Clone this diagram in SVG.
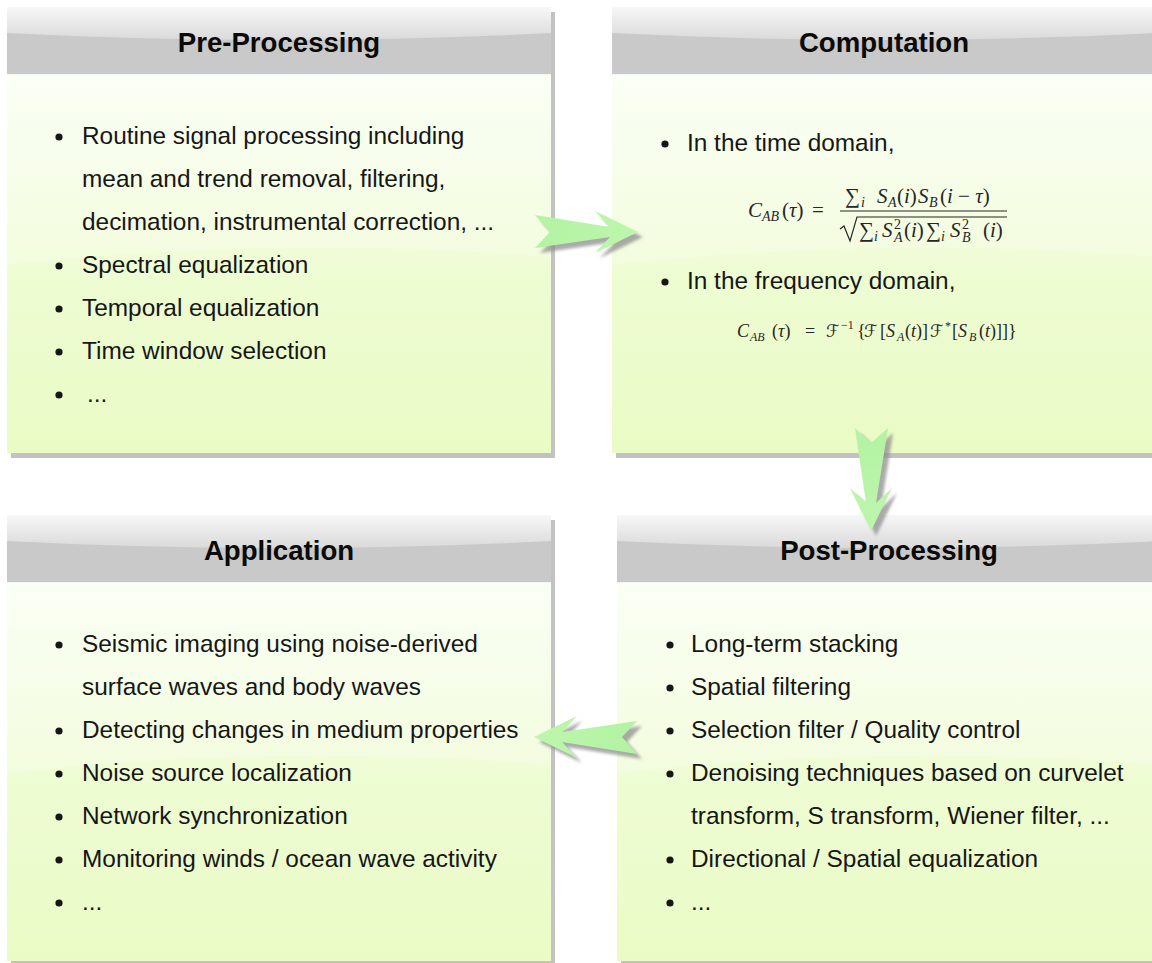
<svg xmlns="http://www.w3.org/2000/svg" width="1152" height="963" viewBox="0 0 1152 963">
<defs>
<linearGradient id="gloss" x1="0" y1="0" x2="0" y2="1">
<stop offset="0" stop-color="#f7f7f7"/>
<stop offset="1" stop-color="#dadada"/>
</linearGradient>
<linearGradient id="body" x1="0" y1="0" x2="0" y2="1">
<stop offset="0" stop-color="#fafff3"/>
<stop offset="0.55" stop-color="#eefcd2"/>
<stop offset="1" stop-color="#eafbc5"/>
</linearGradient>
<linearGradient id="arrowfill" x1="0" y1="0" x2="1" y2="0">
<stop offset="0" stop-color="#b3f3a2"/>
<stop offset="1" stop-color="#bdf6ac"/>
</linearGradient>
<filter id="blur" x="-20%" y="-20%" width="140%" height="140%">
<feGaussianBlur stdDeviation="1.5"/>
</filter>
<path id="arrow" d="M0,-17 L75,-5 L60,-21 L103,0 L60,21 L75,5 L0,16 L15,0 Z"/>
<g id="panelbg">
<rect x="4" y="5" width="544" height="446" fill="#c2c2c2"/>
<rect x="0" y="0" width="544" height="67" fill="#c9c9c9"/>
<path d="M0,0 H544 V26 Q272,40 0,26 Z" fill="url(#gloss)"/>
<rect x="0" y="67" width="544" height="1" fill="#f4f4f4"/>
<rect x="0" y="68" width="544" height="378" fill="url(#body)"/>
<path d="M0,68 H544 V250 Q272,228 0,258 Z" fill="#ffffff" opacity="0.22"/>
</g>
</defs>
<style>
.t{font-family:"Liberation Sans",Arial,sans-serif;font-size:24.4px;fill:#161616}
.h{font-family:"Liberation Sans",Arial,sans-serif;font-size:27.6px;font-weight:bold;fill:#0a0a0a;text-anchor:middle}
.b{fill:#161616}
.m{font-family:"Liberation Serif","Times New Roman",serif;fill:#262626}
.i{font-style:italic}
.sf{font-family:"DejaVu Serif","DejaVu Sans",serif;fill:#262626}
.rule{stroke:#262626;stroke-width:1.2;fill:none}
</style>

<g id="pre-processing">
<use href="#panelbg" transform="translate(7,7)"/>
<text class="h" x="279" y="52">Pre-Processing</text>
<circle class="b" cx="59" cy="137" r="3.6"/>
<text class="t" x="82" y="144">Routine signal processing including</text>
<text class="t" x="82" y="187">mean and trend removal, filtering,</text>
<text class="t" x="82" y="230">decimation, instrumental correction, ...</text>
<circle class="b" cx="59" cy="266" r="3.6"/>
<text class="t" x="82" y="273">Spectral equalization</text>
<circle class="b" cx="59" cy="309" r="3.6"/>
<text class="t" x="82" y="316">Temporal equalization</text>
<circle class="b" cx="59" cy="352" r="3.6"/>
<text class="t" x="82" y="359">Time window selection</text>
<circle class="b" cx="59" cy="395" r="3.6"/>
<text class="t" x="87" y="402">...</text>
</g>

<g id="computation">
<use href="#panelbg" transform="translate(612,7)"/>
<text class="h" x="884" y="52">Computation</text>
<circle class="b" cx="665" cy="144" r="3.6"/>
<text class="t" x="687" y="151">In the time domain,</text>
<text class="m i" x="748" y="217" font-size="21">C</text>
<text class="m i" x="762" y="221" font-size="14">AB</text>
<text class="m" x="782" y="217" font-size="21">(<tspan class="i">τ</tspan>)</text>
<text class="m" x="812" y="217" font-size="21">=</text>
<text class="m" y="203" font-size="21"><tspan x="845">∑</tspan><tspan x="861" dy="4" font-size="14" class="i">i</tspan><tspan x="877" dy="-4" class="i">S</tspan><tspan x="888" dy="4" font-size="14" class="i">A</tspan><tspan x="897" dy="-4">(</tspan><tspan class="i">i</tspan><tspan>)</tspan><tspan x="918" class="i">S</tspan><tspan x="929" dy="4" font-size="14" class="i">B</tspan><tspan x="940" dy="-4">(</tspan><tspan class="i">i</tspan><tspan> − </tspan><tspan class="i">τ</tspan><tspan>)</tspan></text>
<line class="rule" x1="840" y1="211" x2="1007" y2="211"/>
<path class="rule" d="M840,229 L844,226 L850,241 L857,217 L1007,217"/>
<text class="m" y="237" font-size="21"><tspan x="859">∑</tspan><tspan x="874" dy="4" font-size="14" class="i">i</tspan><tspan x="882" dy="-4" class="i">S</tspan><tspan x="894" dy="-8" font-size="14">2</tspan><tspan x="894" dy="13" font-size="14" class="i">A</tspan><tspan x="904" dy="-5">(</tspan><tspan class="i">i</tspan><tspan>)</tspan><tspan x="926">∑</tspan><tspan x="941" dy="4" font-size="14" class="i">i</tspan><tspan x="950" dy="-4" class="i">S</tspan><tspan x="962" dy="-8" font-size="14">2</tspan><tspan x="962" dy="13" font-size="14" class="i">B</tspan><tspan x="983" dy="-5">(</tspan><tspan class="i">i</tspan><tspan>)</tspan></text>
<circle class="b" cx="665" cy="282" r="3.6"/>
<text class="t" x="687" y="289">In the frequency domain,</text>
<text class="m i" x="737" y="337" font-size="18">C</text>
<text class="m i" x="750" y="341" font-size="12">AB</text>
<text class="m" x="772" y="337" font-size="18">(<tspan class="i">τ</tspan>)</text>
<text class="m" x="805" y="337" font-size="18">=</text>
<text class="sf" x="826" y="337" font-size="17">ℱ</text>
<text class="m" x="841" y="329" font-size="12">−1</text>
<text class="m" x="857" y="337" font-size="18">{</text>
<text class="sf" x="864" y="337" font-size="17">ℱ</text>
<text class="m" x="880" y="337" font-size="18">[</text>
<text class="m i" x="886" y="337" font-size="18">S</text>
<text class="m i" x="897" y="341" font-size="12">A</text>
<text class="m" x="905" y="337" font-size="18">(<tspan class="i">t</tspan>)]</text>
<text class="sf" x="930" y="337" font-size="17">ℱ</text>
<text class="m" x="945" y="330" font-size="12">*</text>
<text class="m" x="952" y="337" font-size="18">[</text>
<text class="m i" x="958" y="337" font-size="18">S</text>
<text class="m i" x="969" y="341" font-size="12">B</text>
<text class="m" x="979" y="337" font-size="18">(<tspan class="i">t</tspan>)]]}</text>
</g>

<g id="application">
<use href="#panelbg" transform="translate(7,515)"/>
<text class="h" x="279" y="560">Application</text>
<circle class="b" cx="59" cy="645" r="3.6"/>
<text class="t" x="82" y="652">Seismic imaging using noise-derived</text>
<text class="t" x="82" y="695">surface waves and body waves</text>
<circle class="b" cx="59" cy="731" r="3.6"/>
<text class="t" x="82" y="738">Detecting changes in medium properties</text>
<circle class="b" cx="59" cy="774" r="3.6"/>
<text class="t" x="82" y="781">Noise source localization</text>
<circle class="b" cx="59" cy="817" r="3.6"/>
<text class="t" x="82" y="824">Network synchronization</text>
<circle class="b" cx="59" cy="860" r="3.6"/>
<text class="t" x="82" y="867">Monitoring winds / ocean wave activity</text>
<circle class="b" cx="59" cy="903" r="3.6"/>
<text class="t" x="82" y="910">...</text>
</g>

<g id="post-processing">
<use href="#panelbg" transform="translate(617,515)"/>
<text class="h" x="889" y="560">Post-Processing</text>
<circle class="b" cx="670" cy="645" r="3.6"/>
<text class="t" x="691" y="652">Long-term stacking</text>
<circle class="b" cx="670" cy="688" r="3.6"/>
<text class="t" x="691" y="695">Spatial filtering</text>
<circle class="b" cx="670" cy="731" r="3.6"/>
<text class="t" x="691" y="738">Selection filter / Quality control</text>
<circle class="b" cx="670" cy="774" r="3.6"/>
<text class="t" x="691" y="781">Denoising techniques based on curvelet</text>
<text class="t" x="691" y="824">transform, S transform, Wiener filter, ...</text>
<circle class="b" cx="670" cy="860" r="3.6"/>
<text class="t" x="691" y="867">Directional / Spatial equalization</text>
<circle class="b" cx="670" cy="903" r="3.6"/>
<text class="t" x="691" y="910">...</text>
</g>

<g id="connectors">
<g fill="#8e8e8e" opacity="0.75" filter="url(#blur)" transform="translate(5,5)">
<use href="#arrow" transform="translate(535,232)"/>
<use href="#arrow" transform="translate(871,428) rotate(90)"/>
<use href="#arrow" transform="translate(637,737) rotate(180)"/>
</g>
<g fill="url(#arrowfill)">
<use href="#arrow" transform="translate(535,232)"/>
<use href="#arrow" transform="translate(871,428) rotate(90)"/>
<use href="#arrow" transform="translate(637,737) rotate(180)"/>
</g>
</g>
</svg>
